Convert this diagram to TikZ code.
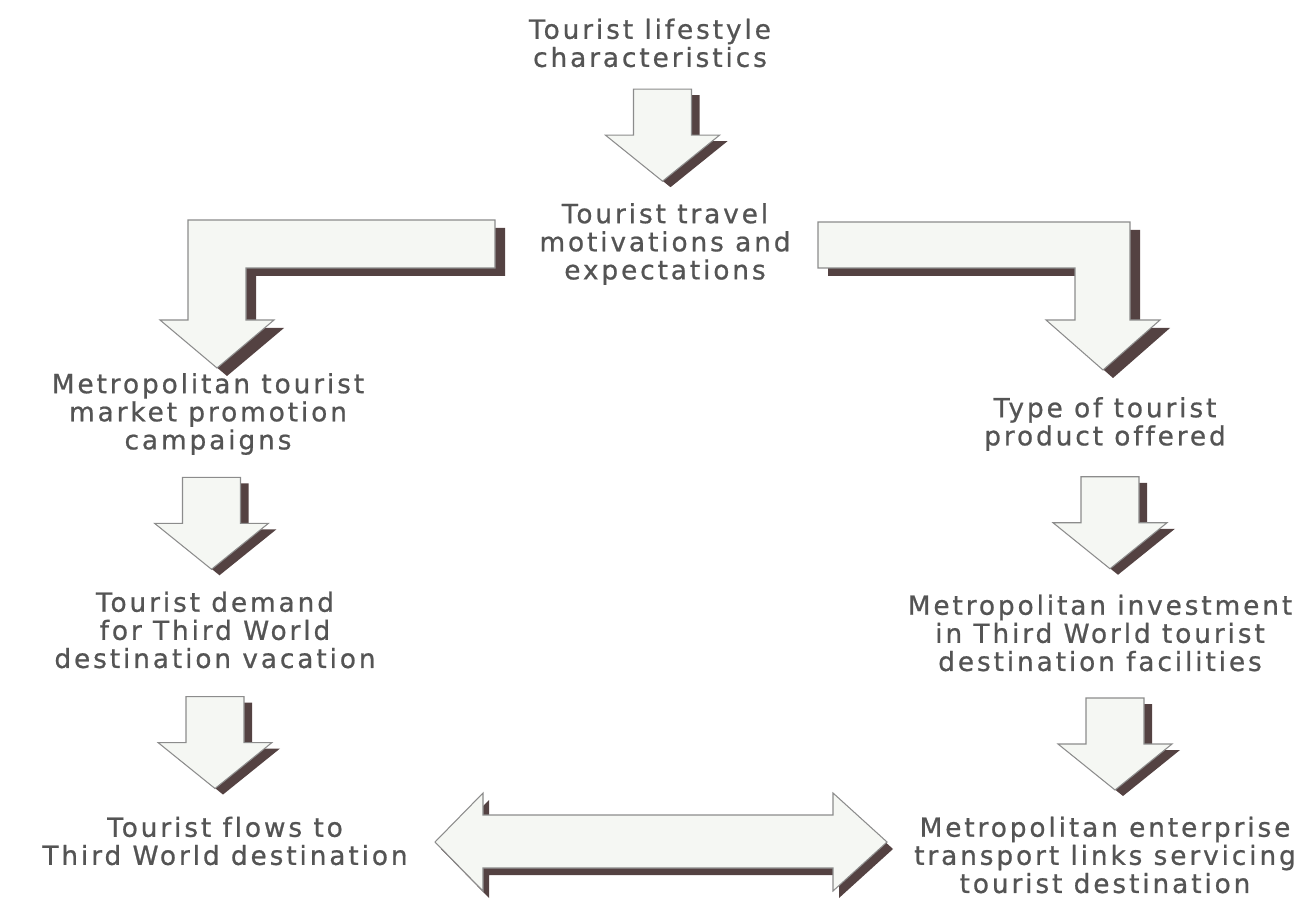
\documentclass[tikz,border=0pt]{standalone}
\usepackage{fontspec}
\setmainfont{DejaVu Sans}[LetterSpace=11, FakeBold=0.8, Ligatures=NoCommon]
\usetikzlibrary{calc}
\definecolor{ink}{RGB}{84, 84, 84}
\definecolor{shade}{RGB}{84, 66, 66}
\definecolor{body}{RGB}{245, 247, 243}
\definecolor{rim}{RGB}{140, 140, 140}
\tikzset{
  stage/.style={align=center, text=ink, inner sep=2pt, font=\fontsize{15}{16}\selectfont},
  fatbody/.style={fill=body, draw=rim, line width=0.6pt},
  fatshade/.style={fill=shade}
}
\newcommand{\downshape}{(-29, -46) -- (29, -46) -- (29, 0) -- (57, 0) -- (0, 46) -- (-57, 0) -- (-29, 0) -- cycle}
\newcommand{\fatdown}[3][]{
  \begin{scope}[shift={($(#2.south)!0.5!(#3.north)$)}, #1]
    \fill[fatshade, shift={(8, 6)}] \downshape;
    \filldraw[fatbody] \downshape;
  \end{scope}
}

\begin{document}
\begin{tikzpicture}[x=0.02cm, y=-0.02cm]
  \useasboundingbox (0, 0) rectangle (1307, 908);

  \node[stage] (life) at (650, 43) {Tourist lifestyle\\characteristics};
  \node[stage] (motiv) at (665, 244) {Tourist travel\\motivations and\\expectations};
  \node[stage] (promo) at (208, 414) {Metropolitan tourist\\market promotion\\campaigns};
  \node[stage] (product) at (1105, 424) {Type of tourist\\product offered};
  \node[stage] (demand) at (215, 630) {Tourist demand\\for Third World\\destination vacation};
  \node[stage] (invest) at (1100, 633) {Metropolitan investment\\in Third World tourist\\destination facilities};
  \node[stage] (flows) at (225, 841) {Tourist flows to\\Third World destination};
  \node[stage] (links) at (1105, 855) {Metropolitan enterprise\\transport links servicing\\tourist destination};

  % small arrows
  \fatdown[xshift=0.1cm]{life}{motiv}
  \fatdown{promo}{demand}
  \fatdown[xshift=-0.1cm]{demand}{flows}
  \fatdown[xshift=0.15cm]{product}{invest}
  \fatdown[xshift=0.25cm]{invest}{links}

  % bent arrows
  \fill[fatshade, shift={(10, 8)}]
    (495, 220) -- (188, 220) -- (188, 320) -- (160, 320) -- (217, 368) -- (274, 320)
    -- (246, 320) -- (246, 268) -- (495, 268) -- cycle;
  \filldraw[fatbody]
    (495, 220) -- (188, 220) -- (188, 320) -- (160, 320) -- (217, 368) -- (274, 320)
    -- (246, 320) -- (246, 268) -- (495, 268) -- cycle;

  \fill[fatshade, shift={(10, 8)}]
    (818, 222) -- (1130, 222) -- (1130, 320) -- (1160, 320) -- (1103, 370) -- (1046, 320)
    -- (1075, 320) -- (1075, 268) -- (818, 268) -- cycle;
  \filldraw[fatbody]
    (818, 222) -- (1130, 222) -- (1130, 320) -- (1160, 320) -- (1103, 370) -- (1046, 320)
    -- (1075, 320) -- (1075, 268) -- (818, 268) -- cycle;

  % two-way arrow
  \fill[fatshade, shift={(6, 7)}]
    (435, 842) -- (483, 793) -- (483, 815) -- (833, 815) -- (833, 793) -- (887, 842)
    -- (833, 891) -- (833, 868) -- (483, 868) -- (483, 891) -- cycle;
  \filldraw[fatbody]
    (435, 842) -- (483, 793) -- (483, 815) -- (833, 815) -- (833, 793) -- (887, 842)
    -- (833, 891) -- (833, 868) -- (483, 868) -- (483, 891) -- cycle;

\end{tikzpicture}
\end{document}
